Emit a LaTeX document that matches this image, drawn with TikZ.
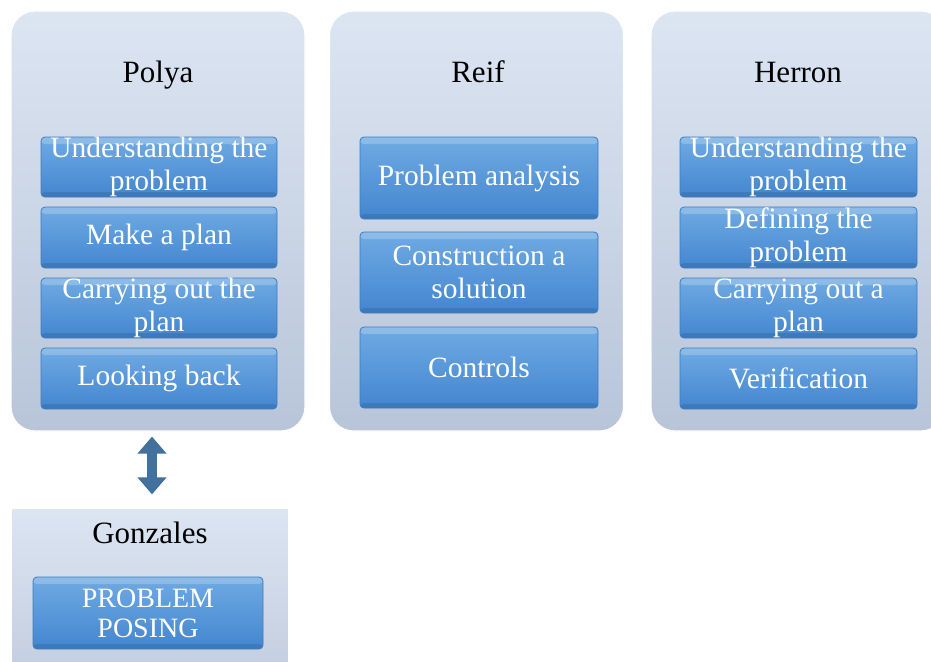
\documentclass[tikz,border=0pt]{standalone}
\usepackage{fontspec}
\setmainfont{Liberation Serif}
\usetikzlibrary{arrows.meta}
\definecolor{contTop}{HTML}{DCE5F2}
\definecolor{contBot}{HTML}{B8C5D9}
\definecolor{gonBot}{HTML}{C2CDDF}
\definecolor{boxTop}{HTML}{6FAAE3}
\definecolor{boxBot}{HTML}{4386CF}
\definecolor{boxEdge}{HTML}{3E7BC0}
\definecolor{arrowCol}{HTML}{41719C}
\begin{document}
\begin{tikzpicture}[x=1pt,y=-1pt,
 container/.style={rounded corners=24pt, top color=contTop, bottom color=contBot, draw=white, line width=1.2pt, minimum width=294pt, minimum height=420pt, inner sep=0pt},
 title/.style={font=\fontsize{31}{34}\selectfont, text=black, inner sep=0pt, anchor=base},
 stepbox/.style={rounded corners=4pt, top color=boxTop, bottom color=boxBot, draw=boxEdge, line width=0.8pt, minimum width=236pt, inner sep=0pt, text=white, align=center, font=\fontsize{29.5}{33}\selectfont,
   path picture={\fill[white,opacity=.22] (path picture bounding box.north west) rectangle ([yshift=-7pt]path picture bounding box.north east);
                 \fill[black,opacity=.10] ([yshift=5pt]path picture bounding box.south west) rectangle (path picture bounding box.south east);}},
 bigarrow/.style={draw=arrowCol, line width=10pt, {Triangle[width=28pt,length=17pt]}-{Triangle[width=28pt,length=17pt]}}]
\useasboundingbox (0,0) rectangle (931,661);
\clip (0,0) rectangle (931,661);
\fill[white] (0,0) rectangle (931,661);

% containers
\node[container] (polya) at (158,221) {};
\node[container] (reif) at (476.5,221) {};
\node[container] (herron) at (798,221) {};
\node[container, rounded corners=0pt, minimum width=278pt, minimum height=170pt, bottom color=gonBot] (gon) at (150,593) {};

% titles
\node[title] (tpolya) at (158,82) {Polya};
\node[title] (treif) at (478,82) {Reif};
\node[title] (therron) at (798,82) {Herron};
\node[title] (tgon) at (150,543) {Gonzales};

% Polya steps
\node[stepbox, minimum height=60pt] (p1) at (159,167) {Understanding the\\problem};
\node[stepbox, minimum height=61pt] (p2) at (159,237.5) {Make a plan};
\node[stepbox, minimum height=60pt] (p3) at (159,308) {Carrying out the\\plan};
\node[stepbox, minimum height=61pt] (p4) at (159,378.5) {Looking back};

% Reif steps
\node[stepbox, minimum height=82pt, minimum width=238pt] (r1) at (479,178) {Problem analysis};
\node[stepbox, minimum height=81pt, minimum width=238pt] (r2) at (479,272.5) {Construction a\\solution};
\node[stepbox, minimum height=81pt, minimum width=238pt] (r3) at (479,367.5) {Controls};

% Herron steps
\node[stepbox, minimum height=60pt, minimum width=237pt] (h1) at (798.5,167) {Understanding the\\problem};
\node[stepbox, minimum height=61pt, minimum width=237pt] (h2) at (798.5,237.5) {Defining the\\problem};
\node[stepbox, minimum height=60pt, minimum width=237pt] (h3) at (798.5,308) {Carrying out a\\plan};
\node[stepbox, minimum height=61pt, minimum width=237pt] (h4) at (798.5,378.5) {Verification};

% Gonzales step
\node[stepbox, minimum height=72pt, minimum width=230pt, font=\fontsize{28}{30}\selectfont] (g1) at (148,613) {PROBLEM\\POSING};

% arrow
\coordinate (ax) at (152,465);
\draw[bigarrow, shorten <=5pt, shorten >=13pt] (polya.south -| ax) -- (gon.north -| ax);
\end{tikzpicture}
\end{document}
